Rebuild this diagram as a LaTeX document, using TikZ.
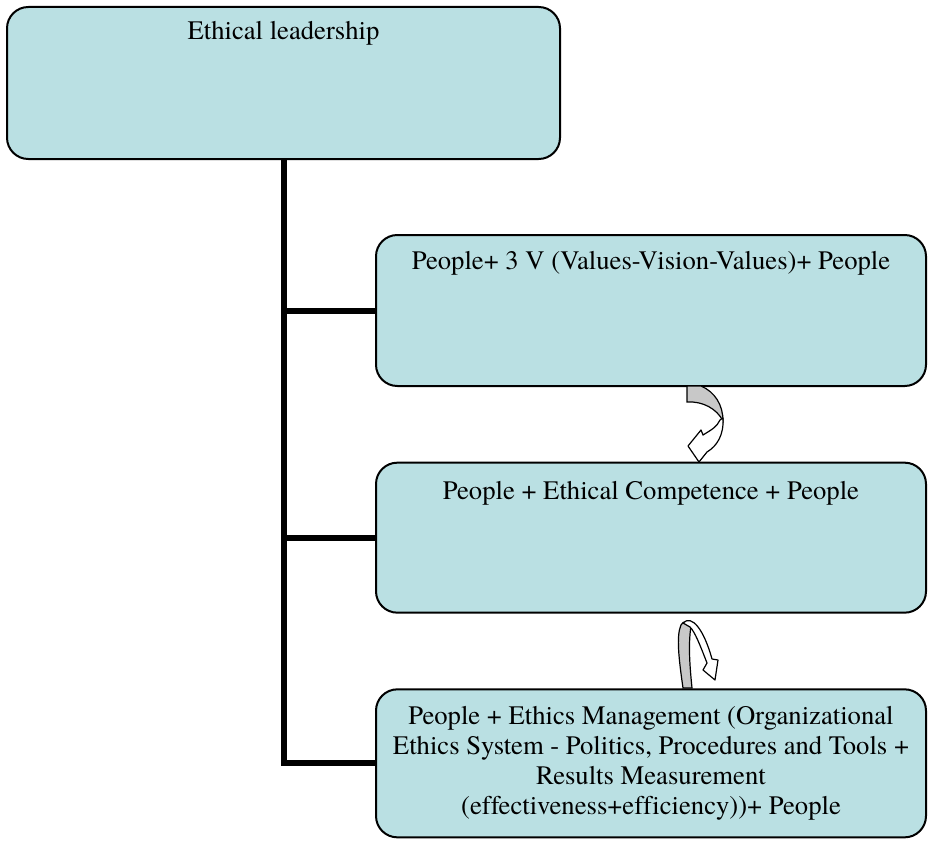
\documentclass[tikz,border=0pt]{standalone}
\usepackage{fontspec}
\setmainfont{TeX Gyre Termes}[Ligatures=NoCommon]
\usetikzlibrary{positioning}
\definecolor{boxblue}{RGB}{186,224,227}
\definecolor{twistgray}{RGB}{200,200,200}
\tikzset{
  every picture/.style={
    line width=1.5pt
  },
  level/.style={draw, fill=boxblue, rounded corners=16pt, inner sep=0pt, align=center},
  leveltext/.style={align=center, inner sep=0pt, font=\rmfamily\fontsize{20}{22.5}\selectfont},
  trunk/.style={line width=4.5pt},
  twist/.style={draw, line width=0.9pt, fill=twistgray},
  twistfront/.style={draw, line width=0.9pt, fill=white, line join=round}
}

\begin{document}
\begin{tikzpicture}[x=0.75pt, y=-0.75pt]
  \useasboundingbox (0,0) rectangle (928,842);

  \node[level, minimum width=414.75pt, minimum height=114pt] (lead) at (283.5,83) {};
  \node[level, minimum width=412.5pt, minimum height=113.25pt] (vvv) at (651,310.5) {};
  \node[level, minimum width=412.5pt, minimum height=112.5pt, below=56pt of vvv] (comp) {};
  \node[level, minimum width=412.5pt, minimum height=111pt, below=56pt of comp, leveltext] (ethics)
  {People + Ethics Management (Organizational\\ Ethics System - Politics, Procedures and Tools +\\
   Results Measurement\\ (effectiveness+efficiency))+ People};

  \node[leveltext, below=10.5pt of lead.north] (leadtxt) {Ethical leadership};
  \node[leveltext, below=12.5pt of vvv.north] (vvvtxt) {People+ 3 V (Values-Vision-Values)+ People};
  \node[leveltext, below=14pt of comp.north] (comptxt) {People + Ethical Competence + People};

  \draw[trunk] (lead.south) -- (lead.south |- ethics.west) -- (ethics.west);
  \draw[trunk] (lead.south |- vvv.west) -- (vvv.west);
  \draw[trunk] (lead.south |- comp.west) -- (comp.west);

  % twisted arrow between first two levels
  \path[twist] (687,386) -- (701,386) .. controls (715,392) and (723,405) .. (723,421)
    .. controls (717,409) and (703,401) .. (687,402) -- cycle;
  \path[twistfront] (723,418) .. controls (724,435) and (717,446) .. (707,452) -- (699,462)
    -- (688,446) -- (701,430) -- (703,435) .. controls (711,430) and (717,427) .. (720,420) -- cycle;

  % twisted arrow between last two levels
  \path[twist] (683,688) .. controls (679,660) and (676,636) .. (681,625)
    .. controls (683,621) and (688,620) .. (691,626) .. controls (688,645) and (690,668) .. (692,688) -- cycle;
  \path[twistfront] (683,623) .. controls (692,614) and (704,630) .. (712,659) -- (718,660)
    -- (715,680) -- (703,670) -- (707,663) .. controls (700,645) and (695,632) .. (690,627) -- cycle;
\end{tikzpicture}
\end{document}
